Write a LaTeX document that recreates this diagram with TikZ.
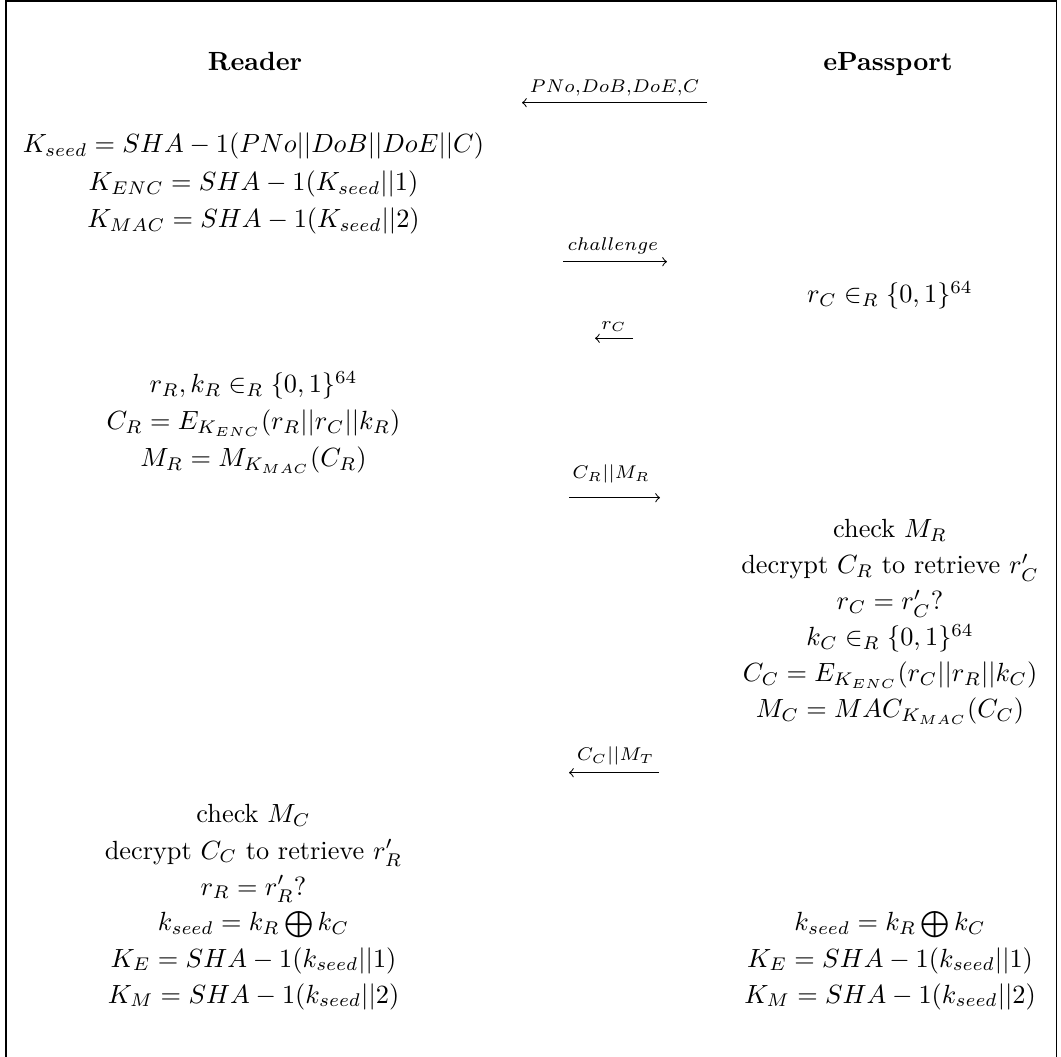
\documentclass[tikz,border=0pt]{standalone}
\usepackage{amsmath}
\begin{document}
\begin{tikzpicture}[x=0.3802pt,y=-0.3802pt,
  txt/.style={anchor=base,inner sep=0pt},
  lbl/.style={anchor=base,inner sep=0pt},
  msg/.style={line width=0.4pt,->}]
\useasboundingbox (0,0) rectangle (1061,1057);
\draw[line width=0.4pt] (6,1100) -- (6,1) -- (1056.5,1) -- (1056.5,1100);
% titles
\node[txt] (rd) at (255,71) {\textbf{Reader}};
\node[txt] (ep) at (888,71) {\textbf{ePassport}};
% message 1
\coordinate (m1s) at (707,102.7); \coordinate (m1e) at (522,102.7);
\draw[msg] (m1s) -- (m1e);
\node[lbl] (l1) at (614.5,93) {$\scriptstyle PNo,DoB,DoE,C$};
% reader block 1
\node[txt] (r1a) at (253.5,153) {$K_{seed} = SHA-1(PNo||DoB||DoE||C)$};
\node[txt] (r1b) at (253.5,191) {$K_{ENC} = SHA-1(K_{seed}||1)$};
\node[txt] (r1c) at (253.5,228) {$K_{MAC} = SHA-1(K_{seed}||2)$};
% message 2
\coordinate (m2s) at (563,261.7); \coordinate (m2e) at (667,261.7);
\draw[msg] (m2s) -- (m2e);
\node[lbl] (l2) at (613,251) {$\scriptstyle challenge$};
% passport 1
\node[txt] (p1) at (890,303) {$r_C \in_R \{0,1\}^{64}$};
% message 3
\coordinate (m3s) at (633,338.3); \coordinate (m3e) at (595,338.3);
\draw[msg] (m3s) -- (m3e);
\node[lbl] (l3) at (614,329.3) {$\scriptstyle r_C$};
% reader block 2
\node[txt] (r2a) at (253.5,393) {$r_R, k_R \in_R \{0,1\}^{64}$};
\node[txt] (r2b) at (253.5,430) {$C_R = E_{K_{ENC}}(r_R||r_C||k_R)$};
\node[txt] (r2c) at (253.5,467) {$M_R = M_{K_{MAC}}(C_R)$};
% message 4
\coordinate (m4s) at (569,497.7); \coordinate (m4e) at (660,497.7);
\draw[msg] (m4s) -- (m4e);
\node[lbl] (l4) at (611,479) {$\scriptstyle C_R||M_R$};
% passport block 2
\node[txt] (p2a) at (890,538) {check $M_R$};
\node[txt] (p2b) at (890,574) {decrypt $C_R$ to retrieve $r'_C$};
\node[txt] (p2c) at (890,610) {$r_C = r'_C?$};
\node[txt] (p2d) at (890,646) {$k_C \in_R \{0,1\}^{64}$};
\node[txt] (p2e) at (890,682) {$C_C = E_{K_{ENC}}(r_C||r_R||k_C)$};
\node[txt] (p2f) at (890,718) {$M_C = MAC_{K_{MAC}}(C_C)$};
% message 5
\coordinate (m5s) at (659,772.7); \coordinate (m5e) at (569,772.7);
\draw[msg] (m5s) -- (m5e);
\node[lbl] (l5) at (615.5,760.7) {$\scriptstyle C_C||M_T$};
% reader block 3
\node[txt] (r3a) at (253.5,823) {check $M_C$};
\node[txt] (r3b) at (253.5,859) {decrypt $C_C$ to retrieve $r'_R$};
\node[txt] (r3c) at (253.5,895) {$r_R = r'_R?$};
\node[txt] (r3d) at (253.5,931) {$k_{seed} = k_R \bigoplus k_C$};
\node[txt] (r3e) at (253.5,967) {$K_E = SHA-1(k_{seed}||1)$};
\node[txt] (r3f) at (253.5,1003) {$K_M = SHA-1(k_{seed}||2)$};
% passport block 3
\node[txt] (p3a) at (890,931) {$k_{seed} = k_R \bigoplus k_C$};
\node[txt] (p3b) at (890,967) {$K_E = SHA-1(k_{seed}||1)$};
\node[txt] (p3c) at (890,1003) {$K_M = SHA-1(k_{seed}||2)$};
\end{tikzpicture}
\end{document}
